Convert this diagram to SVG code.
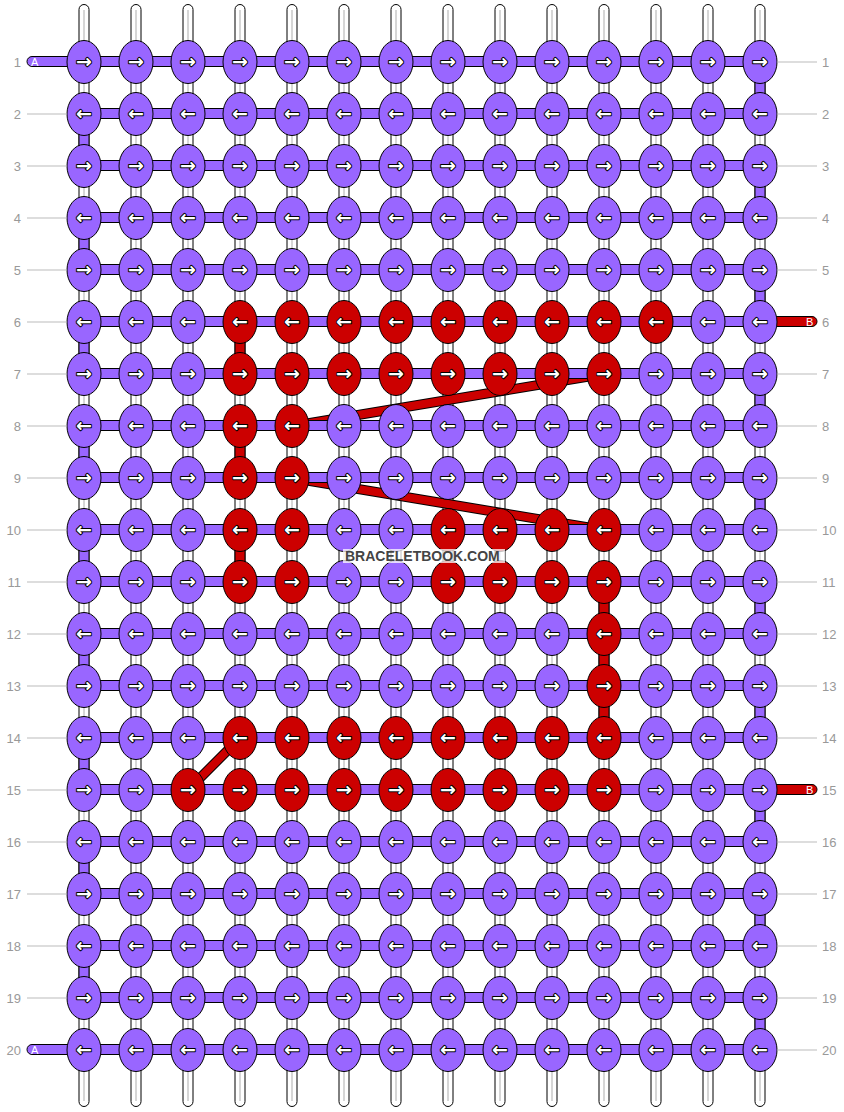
<svg xmlns="http://www.w3.org/2000/svg" width="844" height="1112" viewBox="0 0 844 1112">
<style>
.s{fill:#fff;stroke:#000;stroke-width:1}
.sl{stroke:#c8c8c8;stroke-width:1.5}
.p{fill:#9966ff;stroke:#000;stroke-width:1}
.r{fill:#cc0000;stroke:#000;stroke-width:1}
.a{font-family:"DejaVu Sans",sans-serif;font-size:19px;font-weight:bold;fill:#fff;stroke:#000;stroke-width:2;stroke-linejoin:round;paint-order:stroke;text-anchor:middle}
.g{stroke:#bbb;stroke-width:1}
.nl{font-family:"Liberation Sans",Arial,sans-serif;font-size:13px;fill:#999;text-anchor:end}
.nr{font-family:"Liberation Sans",Arial,sans-serif;font-size:13px;fill:#999;text-anchor:start}
.lb{font-family:"Liberation Sans",Arial,sans-serif;font-size:11px;fill:#fff}
.dk{stroke:#000;stroke-width:10;stroke-linecap:butt}
.dr{stroke:#cc0000;stroke-width:8;stroke-linecap:butt}
</style>
<g id="connectors">
<g id="strands">
<rect class="s" x="79" y="4.5" width="10" height="1102" rx="5"/><line class="sl" x1="84" y1="10" x2="84" y2="1101"/>
<rect class="s" x="131" y="4.5" width="10" height="1102" rx="5"/><line class="sl" x1="136" y1="10" x2="136" y2="1101"/>
<rect class="s" x="183" y="4.5" width="10" height="1102" rx="5"/><line class="sl" x1="188" y1="10" x2="188" y2="1101"/>
<rect class="s" x="235" y="4.5" width="10" height="1102" rx="5"/><line class="sl" x1="240" y1="10" x2="240" y2="1101"/>
<rect class="s" x="287" y="4.5" width="10" height="1102" rx="5"/><line class="sl" x1="292" y1="10" x2="292" y2="1101"/>
<rect class="s" x="339" y="4.5" width="10" height="1102" rx="5"/><line class="sl" x1="344" y1="10" x2="344" y2="1101"/>
<rect class="s" x="391" y="4.5" width="10" height="1102" rx="5"/><line class="sl" x1="396" y1="10" x2="396" y2="1101"/>
<rect class="s" x="443" y="4.5" width="10" height="1102" rx="5"/><line class="sl" x1="448" y1="10" x2="448" y2="1101"/>
<rect class="s" x="495" y="4.5" width="10" height="1102" rx="5"/><line class="sl" x1="500" y1="10" x2="500" y2="1101"/>
<rect class="s" x="547" y="4.5" width="10" height="1102" rx="5"/><line class="sl" x1="552" y1="10" x2="552" y2="1101"/>
<rect class="s" x="599" y="4.5" width="10" height="1102" rx="5"/><line class="sl" x1="604" y1="10" x2="604" y2="1101"/>
<rect class="s" x="651" y="4.5" width="10" height="1102" rx="5"/><line class="sl" x1="656" y1="10" x2="656" y2="1101"/>
<rect class="s" x="703" y="4.5" width="10" height="1102" rx="5"/><line class="sl" x1="708" y1="10" x2="708" y2="1101"/>
<rect class="s" x="755" y="4.5" width="10" height="1102" rx="5"/><line class="sl" x1="760" y1="10" x2="760" y2="1101"/>
</g>
<g id="turns">
<rect class="p" x="755" y="62" width="10" height="52"/>
<rect class="p" x="755" y="166" width="10" height="52"/>
<rect class="p" x="755" y="270" width="10" height="52"/>
<rect class="p" x="755" y="374" width="10" height="52"/>
<rect class="p" x="755" y="478" width="10" height="52"/>
<rect class="p" x="755" y="582" width="10" height="52"/>
<rect class="p" x="755" y="686" width="10" height="52"/>
<rect class="p" x="755" y="790" width="10" height="52"/>
<rect class="p" x="755" y="894" width="10" height="52"/>
<rect class="p" x="755" y="998" width="10" height="52"/>
<rect class="p" x="79" y="114" width="10" height="52"/>
<rect class="p" x="79" y="218" width="10" height="52"/>
<rect class="p" x="79" y="322" width="10" height="52"/>
<rect class="p" x="79" y="426" width="10" height="52"/>
<rect class="p" x="79" y="530" width="10" height="52"/>
<rect class="p" x="79" y="634" width="10" height="52"/>
<rect class="p" x="79" y="738" width="10" height="52"/>
<rect class="p" x="79" y="842" width="10" height="52"/>
<rect class="p" x="79" y="946" width="10" height="52"/>
</g>
<g id="threadB">
<rect class="r" x="235" y="322" width="10" height="52"/>
<rect class="r" x="235" y="426" width="10" height="52"/>
<rect class="r" x="235" y="530" width="10" height="52"/>
<rect class="r" x="599" y="582" width="10" height="156"/>
<line class="dk" x1="604" y1="374" x2="292" y2="426"/>
<line class="dr" x1="604" y1="374" x2="292" y2="426"/>
<line class="dk" x1="292" y1="478" x2="604" y2="530"/>
<line class="dr" x1="292" y1="478" x2="604" y2="530"/>
<line class="dk" x1="240" y1="738" x2="188" y2="790"/>
<line class="dr" x1="240" y1="738" x2="188" y2="790"/>
</g>
<g id="rows">
<rect class="p" x="84" y="56.5" width="676" height="10"/>
<rect class="p" x="84" y="108.5" width="676" height="10"/>
<rect class="p" x="84" y="160.5" width="676" height="10"/>
<rect class="p" x="84" y="212.5" width="676" height="10"/>
<rect class="p" x="84" y="264.5" width="676" height="10"/>
<rect class="p" x="84" y="316.5" width="676" height="10"/>
<rect class="p" x="84" y="368.5" width="676" height="10"/>
<rect class="p" x="84" y="420.5" width="676" height="10"/>
<rect class="p" x="84" y="472.5" width="676" height="10"/>
<rect class="p" x="84" y="524.5" width="676" height="10"/>
<rect class="p" x="84" y="576.5" width="676" height="10"/>
<rect class="p" x="84" y="628.5" width="676" height="10"/>
<rect class="p" x="84" y="680.5" width="676" height="10"/>
<rect class="p" x="84" y="732.5" width="676" height="10"/>
<rect class="p" x="84" y="784.5" width="676" height="10"/>
<rect class="p" x="84" y="836.5" width="676" height="10"/>
<rect class="p" x="84" y="888.5" width="676" height="10"/>
<rect class="p" x="84" y="940.5" width="676" height="10"/>
<rect class="p" x="84" y="992.5" width="676" height="10"/>
<rect class="p" x="84" y="1044.5" width="676" height="10"/>
</g>
<g id="ends">
<rect class="p" x="27" y="56.5" width="60" height="10" rx="5"/>
<rect class="p" x="27" y="1044.5" width="60" height="10" rx="5"/>
<rect class="r" x="757" y="316.5" width="60" height="10" rx="5"/>
<rect class="r" x="757" y="784.5" width="60" height="10" rx="5"/>
</g>
</g>
<g id="nodes">
<g id="r1">
<g id="n1_1"><ellipse class="p" cx="84" cy="62" rx="17" ry="21.5"/><text class="a" x="84" y="68">→</text></g>
<g id="n1_2"><ellipse class="p" cx="136" cy="62" rx="17" ry="21.5"/><text class="a" x="136" y="68">→</text></g>
<g id="n1_3"><ellipse class="p" cx="188" cy="62" rx="17" ry="21.5"/><text class="a" x="188" y="68">→</text></g>
<g id="n1_4"><ellipse class="p" cx="240" cy="62" rx="17" ry="21.5"/><text class="a" x="240" y="68">→</text></g>
<g id="n1_5"><ellipse class="p" cx="292" cy="62" rx="17" ry="21.5"/><text class="a" x="292" y="68">→</text></g>
<g id="n1_6"><ellipse class="p" cx="344" cy="62" rx="17" ry="21.5"/><text class="a" x="344" y="68">→</text></g>
<g id="n1_7"><ellipse class="p" cx="396" cy="62" rx="17" ry="21.5"/><text class="a" x="396" y="68">→</text></g>
<g id="n1_8"><ellipse class="p" cx="448" cy="62" rx="17" ry="21.5"/><text class="a" x="448" y="68">→</text></g>
<g id="n1_9"><ellipse class="p" cx="500" cy="62" rx="17" ry="21.5"/><text class="a" x="500" y="68">→</text></g>
<g id="n1_10"><ellipse class="p" cx="552" cy="62" rx="17" ry="21.5"/><text class="a" x="552" y="68">→</text></g>
<g id="n1_11"><ellipse class="p" cx="604" cy="62" rx="17" ry="21.5"/><text class="a" x="604" y="68">→</text></g>
<g id="n1_12"><ellipse class="p" cx="656" cy="62" rx="17" ry="21.5"/><text class="a" x="656" y="68">→</text></g>
<g id="n1_13"><ellipse class="p" cx="708" cy="62" rx="17" ry="21.5"/><text class="a" x="708" y="68">→</text></g>
<g id="n1_14"><ellipse class="p" cx="760" cy="62" rx="17" ry="21.5"/><text class="a" x="760" y="68">→</text></g>
</g>
<g id="r2">
<g id="n2_1"><ellipse class="p" cx="84" cy="114" rx="17" ry="21.5"/><text class="a" x="84" y="120">←</text></g>
<g id="n2_2"><ellipse class="p" cx="136" cy="114" rx="17" ry="21.5"/><text class="a" x="136" y="120">←</text></g>
<g id="n2_3"><ellipse class="p" cx="188" cy="114" rx="17" ry="21.5"/><text class="a" x="188" y="120">←</text></g>
<g id="n2_4"><ellipse class="p" cx="240" cy="114" rx="17" ry="21.5"/><text class="a" x="240" y="120">←</text></g>
<g id="n2_5"><ellipse class="p" cx="292" cy="114" rx="17" ry="21.5"/><text class="a" x="292" y="120">←</text></g>
<g id="n2_6"><ellipse class="p" cx="344" cy="114" rx="17" ry="21.5"/><text class="a" x="344" y="120">←</text></g>
<g id="n2_7"><ellipse class="p" cx="396" cy="114" rx="17" ry="21.5"/><text class="a" x="396" y="120">←</text></g>
<g id="n2_8"><ellipse class="p" cx="448" cy="114" rx="17" ry="21.5"/><text class="a" x="448" y="120">←</text></g>
<g id="n2_9"><ellipse class="p" cx="500" cy="114" rx="17" ry="21.5"/><text class="a" x="500" y="120">←</text></g>
<g id="n2_10"><ellipse class="p" cx="552" cy="114" rx="17" ry="21.5"/><text class="a" x="552" y="120">←</text></g>
<g id="n2_11"><ellipse class="p" cx="604" cy="114" rx="17" ry="21.5"/><text class="a" x="604" y="120">←</text></g>
<g id="n2_12"><ellipse class="p" cx="656" cy="114" rx="17" ry="21.5"/><text class="a" x="656" y="120">←</text></g>
<g id="n2_13"><ellipse class="p" cx="708" cy="114" rx="17" ry="21.5"/><text class="a" x="708" y="120">←</text></g>
<g id="n2_14"><ellipse class="p" cx="760" cy="114" rx="17" ry="21.5"/><text class="a" x="760" y="120">←</text></g>
</g>
<g id="r3">
<g id="n3_1"><ellipse class="p" cx="84" cy="166" rx="17" ry="21.5"/><text class="a" x="84" y="172">→</text></g>
<g id="n3_2"><ellipse class="p" cx="136" cy="166" rx="17" ry="21.5"/><text class="a" x="136" y="172">→</text></g>
<g id="n3_3"><ellipse class="p" cx="188" cy="166" rx="17" ry="21.5"/><text class="a" x="188" y="172">→</text></g>
<g id="n3_4"><ellipse class="p" cx="240" cy="166" rx="17" ry="21.5"/><text class="a" x="240" y="172">→</text></g>
<g id="n3_5"><ellipse class="p" cx="292" cy="166" rx="17" ry="21.5"/><text class="a" x="292" y="172">→</text></g>
<g id="n3_6"><ellipse class="p" cx="344" cy="166" rx="17" ry="21.5"/><text class="a" x="344" y="172">→</text></g>
<g id="n3_7"><ellipse class="p" cx="396" cy="166" rx="17" ry="21.5"/><text class="a" x="396" y="172">→</text></g>
<g id="n3_8"><ellipse class="p" cx="448" cy="166" rx="17" ry="21.5"/><text class="a" x="448" y="172">→</text></g>
<g id="n3_9"><ellipse class="p" cx="500" cy="166" rx="17" ry="21.5"/><text class="a" x="500" y="172">→</text></g>
<g id="n3_10"><ellipse class="p" cx="552" cy="166" rx="17" ry="21.5"/><text class="a" x="552" y="172">→</text></g>
<g id="n3_11"><ellipse class="p" cx="604" cy="166" rx="17" ry="21.5"/><text class="a" x="604" y="172">→</text></g>
<g id="n3_12"><ellipse class="p" cx="656" cy="166" rx="17" ry="21.5"/><text class="a" x="656" y="172">→</text></g>
<g id="n3_13"><ellipse class="p" cx="708" cy="166" rx="17" ry="21.5"/><text class="a" x="708" y="172">→</text></g>
<g id="n3_14"><ellipse class="p" cx="760" cy="166" rx="17" ry="21.5"/><text class="a" x="760" y="172">→</text></g>
</g>
<g id="r4">
<g id="n4_1"><ellipse class="p" cx="84" cy="218" rx="17" ry="21.5"/><text class="a" x="84" y="224">←</text></g>
<g id="n4_2"><ellipse class="p" cx="136" cy="218" rx="17" ry="21.5"/><text class="a" x="136" y="224">←</text></g>
<g id="n4_3"><ellipse class="p" cx="188" cy="218" rx="17" ry="21.5"/><text class="a" x="188" y="224">←</text></g>
<g id="n4_4"><ellipse class="p" cx="240" cy="218" rx="17" ry="21.5"/><text class="a" x="240" y="224">←</text></g>
<g id="n4_5"><ellipse class="p" cx="292" cy="218" rx="17" ry="21.5"/><text class="a" x="292" y="224">←</text></g>
<g id="n4_6"><ellipse class="p" cx="344" cy="218" rx="17" ry="21.5"/><text class="a" x="344" y="224">←</text></g>
<g id="n4_7"><ellipse class="p" cx="396" cy="218" rx="17" ry="21.5"/><text class="a" x="396" y="224">←</text></g>
<g id="n4_8"><ellipse class="p" cx="448" cy="218" rx="17" ry="21.5"/><text class="a" x="448" y="224">←</text></g>
<g id="n4_9"><ellipse class="p" cx="500" cy="218" rx="17" ry="21.5"/><text class="a" x="500" y="224">←</text></g>
<g id="n4_10"><ellipse class="p" cx="552" cy="218" rx="17" ry="21.5"/><text class="a" x="552" y="224">←</text></g>
<g id="n4_11"><ellipse class="p" cx="604" cy="218" rx="17" ry="21.5"/><text class="a" x="604" y="224">←</text></g>
<g id="n4_12"><ellipse class="p" cx="656" cy="218" rx="17" ry="21.5"/><text class="a" x="656" y="224">←</text></g>
<g id="n4_13"><ellipse class="p" cx="708" cy="218" rx="17" ry="21.5"/><text class="a" x="708" y="224">←</text></g>
<g id="n4_14"><ellipse class="p" cx="760" cy="218" rx="17" ry="21.5"/><text class="a" x="760" y="224">←</text></g>
</g>
<g id="r5">
<g id="n5_1"><ellipse class="p" cx="84" cy="270" rx="17" ry="21.5"/><text class="a" x="84" y="276">→</text></g>
<g id="n5_2"><ellipse class="p" cx="136" cy="270" rx="17" ry="21.5"/><text class="a" x="136" y="276">→</text></g>
<g id="n5_3"><ellipse class="p" cx="188" cy="270" rx="17" ry="21.5"/><text class="a" x="188" y="276">→</text></g>
<g id="n5_4"><ellipse class="p" cx="240" cy="270" rx="17" ry="21.5"/><text class="a" x="240" y="276">→</text></g>
<g id="n5_5"><ellipse class="p" cx="292" cy="270" rx="17" ry="21.5"/><text class="a" x="292" y="276">→</text></g>
<g id="n5_6"><ellipse class="p" cx="344" cy="270" rx="17" ry="21.5"/><text class="a" x="344" y="276">→</text></g>
<g id="n5_7"><ellipse class="p" cx="396" cy="270" rx="17" ry="21.5"/><text class="a" x="396" y="276">→</text></g>
<g id="n5_8"><ellipse class="p" cx="448" cy="270" rx="17" ry="21.5"/><text class="a" x="448" y="276">→</text></g>
<g id="n5_9"><ellipse class="p" cx="500" cy="270" rx="17" ry="21.5"/><text class="a" x="500" y="276">→</text></g>
<g id="n5_10"><ellipse class="p" cx="552" cy="270" rx="17" ry="21.5"/><text class="a" x="552" y="276">→</text></g>
<g id="n5_11"><ellipse class="p" cx="604" cy="270" rx="17" ry="21.5"/><text class="a" x="604" y="276">→</text></g>
<g id="n5_12"><ellipse class="p" cx="656" cy="270" rx="17" ry="21.5"/><text class="a" x="656" y="276">→</text></g>
<g id="n5_13"><ellipse class="p" cx="708" cy="270" rx="17" ry="21.5"/><text class="a" x="708" y="276">→</text></g>
<g id="n5_14"><ellipse class="p" cx="760" cy="270" rx="17" ry="21.5"/><text class="a" x="760" y="276">→</text></g>
</g>
<g id="r6">
<g id="n6_1"><ellipse class="p" cx="84" cy="322" rx="17" ry="21.5"/><text class="a" x="84" y="328">←</text></g>
<g id="n6_2"><ellipse class="p" cx="136" cy="322" rx="17" ry="21.5"/><text class="a" x="136" y="328">←</text></g>
<g id="n6_3"><ellipse class="p" cx="188" cy="322" rx="17" ry="21.5"/><text class="a" x="188" y="328">←</text></g>
<g id="n6_4"><ellipse class="r" cx="240" cy="322" rx="17" ry="21.5"/><text class="a" x="240" y="328">←</text></g>
<g id="n6_5"><ellipse class="r" cx="292" cy="322" rx="17" ry="21.5"/><text class="a" x="292" y="328">←</text></g>
<g id="n6_6"><ellipse class="r" cx="344" cy="322" rx="17" ry="21.5"/><text class="a" x="344" y="328">←</text></g>
<g id="n6_7"><ellipse class="r" cx="396" cy="322" rx="17" ry="21.5"/><text class="a" x="396" y="328">←</text></g>
<g id="n6_8"><ellipse class="r" cx="448" cy="322" rx="17" ry="21.5"/><text class="a" x="448" y="328">←</text></g>
<g id="n6_9"><ellipse class="r" cx="500" cy="322" rx="17" ry="21.5"/><text class="a" x="500" y="328">←</text></g>
<g id="n6_10"><ellipse class="r" cx="552" cy="322" rx="17" ry="21.5"/><text class="a" x="552" y="328">←</text></g>
<g id="n6_11"><ellipse class="r" cx="604" cy="322" rx="17" ry="21.5"/><text class="a" x="604" y="328">←</text></g>
<g id="n6_12"><ellipse class="r" cx="656" cy="322" rx="17" ry="21.5"/><text class="a" x="656" y="328">←</text></g>
<g id="n6_13"><ellipse class="p" cx="708" cy="322" rx="17" ry="21.5"/><text class="a" x="708" y="328">←</text></g>
<g id="n6_14"><ellipse class="p" cx="760" cy="322" rx="17" ry="21.5"/><text class="a" x="760" y="328">←</text></g>
</g>
<g id="r7">
<g id="n7_1"><ellipse class="p" cx="84" cy="374" rx="17" ry="21.5"/><text class="a" x="84" y="380">→</text></g>
<g id="n7_2"><ellipse class="p" cx="136" cy="374" rx="17" ry="21.5"/><text class="a" x="136" y="380">→</text></g>
<g id="n7_3"><ellipse class="p" cx="188" cy="374" rx="17" ry="21.5"/><text class="a" x="188" y="380">→</text></g>
<g id="n7_4"><ellipse class="r" cx="240" cy="374" rx="17" ry="21.5"/><text class="a" x="240" y="380">→</text></g>
<g id="n7_5"><ellipse class="r" cx="292" cy="374" rx="17" ry="21.5"/><text class="a" x="292" y="380">→</text></g>
<g id="n7_6"><ellipse class="r" cx="344" cy="374" rx="17" ry="21.5"/><text class="a" x="344" y="380">→</text></g>
<g id="n7_7"><ellipse class="r" cx="396" cy="374" rx="17" ry="21.5"/><text class="a" x="396" y="380">→</text></g>
<g id="n7_8"><ellipse class="r" cx="448" cy="374" rx="17" ry="21.5"/><text class="a" x="448" y="380">→</text></g>
<g id="n7_9"><ellipse class="r" cx="500" cy="374" rx="17" ry="21.5"/><text class="a" x="500" y="380">→</text></g>
<g id="n7_10"><ellipse class="r" cx="552" cy="374" rx="17" ry="21.5"/><text class="a" x="552" y="380">→</text></g>
<g id="n7_11"><ellipse class="r" cx="604" cy="374" rx="17" ry="21.5"/><text class="a" x="604" y="380">→</text></g>
<g id="n7_12"><ellipse class="p" cx="656" cy="374" rx="17" ry="21.5"/><text class="a" x="656" y="380">→</text></g>
<g id="n7_13"><ellipse class="p" cx="708" cy="374" rx="17" ry="21.5"/><text class="a" x="708" y="380">→</text></g>
<g id="n7_14"><ellipse class="p" cx="760" cy="374" rx="17" ry="21.5"/><text class="a" x="760" y="380">→</text></g>
</g>
<g id="r8">
<g id="n8_1"><ellipse class="p" cx="84" cy="426" rx="17" ry="21.5"/><text class="a" x="84" y="432">←</text></g>
<g id="n8_2"><ellipse class="p" cx="136" cy="426" rx="17" ry="21.5"/><text class="a" x="136" y="432">←</text></g>
<g id="n8_3"><ellipse class="p" cx="188" cy="426" rx="17" ry="21.5"/><text class="a" x="188" y="432">←</text></g>
<g id="n8_4"><ellipse class="r" cx="240" cy="426" rx="17" ry="21.5"/><text class="a" x="240" y="432">←</text></g>
<g id="n8_5"><ellipse class="r" cx="292" cy="426" rx="17" ry="21.5"/><text class="a" x="292" y="432">←</text></g>
<g id="n8_6"><ellipse class="p" cx="344" cy="426" rx="17" ry="21.5"/><text class="a" x="344" y="432">←</text></g>
<g id="n8_7"><ellipse class="p" cx="396" cy="426" rx="17" ry="21.5"/><text class="a" x="396" y="432">←</text></g>
<g id="n8_8"><ellipse class="p" cx="448" cy="426" rx="17" ry="21.5"/><text class="a" x="448" y="432">←</text></g>
<g id="n8_9"><ellipse class="p" cx="500" cy="426" rx="17" ry="21.5"/><text class="a" x="500" y="432">←</text></g>
<g id="n8_10"><ellipse class="p" cx="552" cy="426" rx="17" ry="21.5"/><text class="a" x="552" y="432">←</text></g>
<g id="n8_11"><ellipse class="p" cx="604" cy="426" rx="17" ry="21.5"/><text class="a" x="604" y="432">←</text></g>
<g id="n8_12"><ellipse class="p" cx="656" cy="426" rx="17" ry="21.5"/><text class="a" x="656" y="432">←</text></g>
<g id="n8_13"><ellipse class="p" cx="708" cy="426" rx="17" ry="21.5"/><text class="a" x="708" y="432">←</text></g>
<g id="n8_14"><ellipse class="p" cx="760" cy="426" rx="17" ry="21.5"/><text class="a" x="760" y="432">←</text></g>
</g>
<g id="r9">
<g id="n9_1"><ellipse class="p" cx="84" cy="478" rx="17" ry="21.5"/><text class="a" x="84" y="484">→</text></g>
<g id="n9_2"><ellipse class="p" cx="136" cy="478" rx="17" ry="21.5"/><text class="a" x="136" y="484">→</text></g>
<g id="n9_3"><ellipse class="p" cx="188" cy="478" rx="17" ry="21.5"/><text class="a" x="188" y="484">→</text></g>
<g id="n9_4"><ellipse class="r" cx="240" cy="478" rx="17" ry="21.5"/><text class="a" x="240" y="484">→</text></g>
<g id="n9_5"><ellipse class="r" cx="292" cy="478" rx="17" ry="21.5"/><text class="a" x="292" y="484">→</text></g>
<g id="n9_6"><ellipse class="p" cx="344" cy="478" rx="17" ry="21.5"/><text class="a" x="344" y="484">→</text></g>
<g id="n9_7"><ellipse class="p" cx="396" cy="478" rx="17" ry="21.5"/><text class="a" x="396" y="484">→</text></g>
<g id="n9_8"><ellipse class="p" cx="448" cy="478" rx="17" ry="21.5"/><text class="a" x="448" y="484">→</text></g>
<g id="n9_9"><ellipse class="p" cx="500" cy="478" rx="17" ry="21.5"/><text class="a" x="500" y="484">→</text></g>
<g id="n9_10"><ellipse class="p" cx="552" cy="478" rx="17" ry="21.5"/><text class="a" x="552" y="484">→</text></g>
<g id="n9_11"><ellipse class="p" cx="604" cy="478" rx="17" ry="21.5"/><text class="a" x="604" y="484">→</text></g>
<g id="n9_12"><ellipse class="p" cx="656" cy="478" rx="17" ry="21.5"/><text class="a" x="656" y="484">→</text></g>
<g id="n9_13"><ellipse class="p" cx="708" cy="478" rx="17" ry="21.5"/><text class="a" x="708" y="484">→</text></g>
<g id="n9_14"><ellipse class="p" cx="760" cy="478" rx="17" ry="21.5"/><text class="a" x="760" y="484">→</text></g>
</g>
<g id="r10">
<g id="n10_1"><ellipse class="p" cx="84" cy="530" rx="17" ry="21.5"/><text class="a" x="84" y="536">←</text></g>
<g id="n10_2"><ellipse class="p" cx="136" cy="530" rx="17" ry="21.5"/><text class="a" x="136" y="536">←</text></g>
<g id="n10_3"><ellipse class="p" cx="188" cy="530" rx="17" ry="21.5"/><text class="a" x="188" y="536">←</text></g>
<g id="n10_4"><ellipse class="r" cx="240" cy="530" rx="17" ry="21.5"/><text class="a" x="240" y="536">←</text></g>
<g id="n10_5"><ellipse class="r" cx="292" cy="530" rx="17" ry="21.5"/><text class="a" x="292" y="536">←</text></g>
<g id="n10_6"><ellipse class="p" cx="344" cy="530" rx="17" ry="21.5"/><text class="a" x="344" y="536">←</text></g>
<g id="n10_7"><ellipse class="p" cx="396" cy="530" rx="17" ry="21.5"/><text class="a" x="396" y="536">←</text></g>
<g id="n10_8"><ellipse class="r" cx="448" cy="530" rx="17" ry="21.5"/><text class="a" x="448" y="536">←</text></g>
<g id="n10_9"><ellipse class="r" cx="500" cy="530" rx="17" ry="21.5"/><text class="a" x="500" y="536">←</text></g>
<g id="n10_10"><ellipse class="r" cx="552" cy="530" rx="17" ry="21.5"/><text class="a" x="552" y="536">←</text></g>
<g id="n10_11"><ellipse class="r" cx="604" cy="530" rx="17" ry="21.5"/><text class="a" x="604" y="536">←</text></g>
<g id="n10_12"><ellipse class="p" cx="656" cy="530" rx="17" ry="21.5"/><text class="a" x="656" y="536">←</text></g>
<g id="n10_13"><ellipse class="p" cx="708" cy="530" rx="17" ry="21.5"/><text class="a" x="708" y="536">←</text></g>
<g id="n10_14"><ellipse class="p" cx="760" cy="530" rx="17" ry="21.5"/><text class="a" x="760" y="536">←</text></g>
</g>
<g id="r11">
<g id="n11_1"><ellipse class="p" cx="84" cy="582" rx="17" ry="21.5"/><text class="a" x="84" y="588">→</text></g>
<g id="n11_2"><ellipse class="p" cx="136" cy="582" rx="17" ry="21.5"/><text class="a" x="136" y="588">→</text></g>
<g id="n11_3"><ellipse class="p" cx="188" cy="582" rx="17" ry="21.5"/><text class="a" x="188" y="588">→</text></g>
<g id="n11_4"><ellipse class="r" cx="240" cy="582" rx="17" ry="21.5"/><text class="a" x="240" y="588">→</text></g>
<g id="n11_5"><ellipse class="r" cx="292" cy="582" rx="17" ry="21.5"/><text class="a" x="292" y="588">→</text></g>
<g id="n11_6"><ellipse class="p" cx="344" cy="582" rx="17" ry="21.5"/><text class="a" x="344" y="588">→</text></g>
<g id="n11_7"><ellipse class="p" cx="396" cy="582" rx="17" ry="21.5"/><text class="a" x="396" y="588">→</text></g>
<g id="n11_8"><ellipse class="r" cx="448" cy="582" rx="17" ry="21.5"/><text class="a" x="448" y="588">→</text></g>
<g id="n11_9"><ellipse class="r" cx="500" cy="582" rx="17" ry="21.5"/><text class="a" x="500" y="588">→</text></g>
<g id="n11_10"><ellipse class="r" cx="552" cy="582" rx="17" ry="21.5"/><text class="a" x="552" y="588">→</text></g>
<g id="n11_11"><ellipse class="r" cx="604" cy="582" rx="17" ry="21.5"/><text class="a" x="604" y="588">→</text></g>
<g id="n11_12"><ellipse class="p" cx="656" cy="582" rx="17" ry="21.5"/><text class="a" x="656" y="588">→</text></g>
<g id="n11_13"><ellipse class="p" cx="708" cy="582" rx="17" ry="21.5"/><text class="a" x="708" y="588">→</text></g>
<g id="n11_14"><ellipse class="p" cx="760" cy="582" rx="17" ry="21.5"/><text class="a" x="760" y="588">→</text></g>
</g>
<g id="r12">
<g id="n12_1"><ellipse class="p" cx="84" cy="634" rx="17" ry="21.5"/><text class="a" x="84" y="640">←</text></g>
<g id="n12_2"><ellipse class="p" cx="136" cy="634" rx="17" ry="21.5"/><text class="a" x="136" y="640">←</text></g>
<g id="n12_3"><ellipse class="p" cx="188" cy="634" rx="17" ry="21.5"/><text class="a" x="188" y="640">←</text></g>
<g id="n12_4"><ellipse class="p" cx="240" cy="634" rx="17" ry="21.5"/><text class="a" x="240" y="640">←</text></g>
<g id="n12_5"><ellipse class="p" cx="292" cy="634" rx="17" ry="21.5"/><text class="a" x="292" y="640">←</text></g>
<g id="n12_6"><ellipse class="p" cx="344" cy="634" rx="17" ry="21.5"/><text class="a" x="344" y="640">←</text></g>
<g id="n12_7"><ellipse class="p" cx="396" cy="634" rx="17" ry="21.5"/><text class="a" x="396" y="640">←</text></g>
<g id="n12_8"><ellipse class="p" cx="448" cy="634" rx="17" ry="21.5"/><text class="a" x="448" y="640">←</text></g>
<g id="n12_9"><ellipse class="p" cx="500" cy="634" rx="17" ry="21.5"/><text class="a" x="500" y="640">←</text></g>
<g id="n12_10"><ellipse class="p" cx="552" cy="634" rx="17" ry="21.5"/><text class="a" x="552" y="640">←</text></g>
<g id="n12_11"><ellipse class="r" cx="604" cy="634" rx="17" ry="21.5"/><text class="a" x="604" y="640">←</text></g>
<g id="n12_12"><ellipse class="p" cx="656" cy="634" rx="17" ry="21.5"/><text class="a" x="656" y="640">←</text></g>
<g id="n12_13"><ellipse class="p" cx="708" cy="634" rx="17" ry="21.5"/><text class="a" x="708" y="640">←</text></g>
<g id="n12_14"><ellipse class="p" cx="760" cy="634" rx="17" ry="21.5"/><text class="a" x="760" y="640">←</text></g>
</g>
<g id="r13">
<g id="n13_1"><ellipse class="p" cx="84" cy="686" rx="17" ry="21.5"/><text class="a" x="84" y="692">→</text></g>
<g id="n13_2"><ellipse class="p" cx="136" cy="686" rx="17" ry="21.5"/><text class="a" x="136" y="692">→</text></g>
<g id="n13_3"><ellipse class="p" cx="188" cy="686" rx="17" ry="21.5"/><text class="a" x="188" y="692">→</text></g>
<g id="n13_4"><ellipse class="p" cx="240" cy="686" rx="17" ry="21.5"/><text class="a" x="240" y="692">→</text></g>
<g id="n13_5"><ellipse class="p" cx="292" cy="686" rx="17" ry="21.5"/><text class="a" x="292" y="692">→</text></g>
<g id="n13_6"><ellipse class="p" cx="344" cy="686" rx="17" ry="21.5"/><text class="a" x="344" y="692">→</text></g>
<g id="n13_7"><ellipse class="p" cx="396" cy="686" rx="17" ry="21.5"/><text class="a" x="396" y="692">→</text></g>
<g id="n13_8"><ellipse class="p" cx="448" cy="686" rx="17" ry="21.5"/><text class="a" x="448" y="692">→</text></g>
<g id="n13_9"><ellipse class="p" cx="500" cy="686" rx="17" ry="21.5"/><text class="a" x="500" y="692">→</text></g>
<g id="n13_10"><ellipse class="p" cx="552" cy="686" rx="17" ry="21.5"/><text class="a" x="552" y="692">→</text></g>
<g id="n13_11"><ellipse class="r" cx="604" cy="686" rx="17" ry="21.5"/><text class="a" x="604" y="692">→</text></g>
<g id="n13_12"><ellipse class="p" cx="656" cy="686" rx="17" ry="21.5"/><text class="a" x="656" y="692">→</text></g>
<g id="n13_13"><ellipse class="p" cx="708" cy="686" rx="17" ry="21.5"/><text class="a" x="708" y="692">→</text></g>
<g id="n13_14"><ellipse class="p" cx="760" cy="686" rx="17" ry="21.5"/><text class="a" x="760" y="692">→</text></g>
</g>
<g id="r14">
<g id="n14_1"><ellipse class="p" cx="84" cy="738" rx="17" ry="21.5"/><text class="a" x="84" y="744">←</text></g>
<g id="n14_2"><ellipse class="p" cx="136" cy="738" rx="17" ry="21.5"/><text class="a" x="136" y="744">←</text></g>
<g id="n14_3"><ellipse class="p" cx="188" cy="738" rx="17" ry="21.5"/><text class="a" x="188" y="744">←</text></g>
<g id="n14_4"><ellipse class="r" cx="240" cy="738" rx="17" ry="21.5"/><text class="a" x="240" y="744">←</text></g>
<g id="n14_5"><ellipse class="r" cx="292" cy="738" rx="17" ry="21.5"/><text class="a" x="292" y="744">←</text></g>
<g id="n14_6"><ellipse class="r" cx="344" cy="738" rx="17" ry="21.5"/><text class="a" x="344" y="744">←</text></g>
<g id="n14_7"><ellipse class="r" cx="396" cy="738" rx="17" ry="21.5"/><text class="a" x="396" y="744">←</text></g>
<g id="n14_8"><ellipse class="r" cx="448" cy="738" rx="17" ry="21.5"/><text class="a" x="448" y="744">←</text></g>
<g id="n14_9"><ellipse class="r" cx="500" cy="738" rx="17" ry="21.5"/><text class="a" x="500" y="744">←</text></g>
<g id="n14_10"><ellipse class="r" cx="552" cy="738" rx="17" ry="21.5"/><text class="a" x="552" y="744">←</text></g>
<g id="n14_11"><ellipse class="r" cx="604" cy="738" rx="17" ry="21.5"/><text class="a" x="604" y="744">←</text></g>
<g id="n14_12"><ellipse class="p" cx="656" cy="738" rx="17" ry="21.5"/><text class="a" x="656" y="744">←</text></g>
<g id="n14_13"><ellipse class="p" cx="708" cy="738" rx="17" ry="21.5"/><text class="a" x="708" y="744">←</text></g>
<g id="n14_14"><ellipse class="p" cx="760" cy="738" rx="17" ry="21.5"/><text class="a" x="760" y="744">←</text></g>
</g>
<g id="r15">
<g id="n15_1"><ellipse class="p" cx="84" cy="790" rx="17" ry="21.5"/><text class="a" x="84" y="796">→</text></g>
<g id="n15_2"><ellipse class="p" cx="136" cy="790" rx="17" ry="21.5"/><text class="a" x="136" y="796">→</text></g>
<g id="n15_3"><ellipse class="r" cx="188" cy="790" rx="17" ry="21.5"/><text class="a" x="188" y="796">→</text></g>
<g id="n15_4"><ellipse class="r" cx="240" cy="790" rx="17" ry="21.5"/><text class="a" x="240" y="796">→</text></g>
<g id="n15_5"><ellipse class="r" cx="292" cy="790" rx="17" ry="21.5"/><text class="a" x="292" y="796">→</text></g>
<g id="n15_6"><ellipse class="r" cx="344" cy="790" rx="17" ry="21.5"/><text class="a" x="344" y="796">→</text></g>
<g id="n15_7"><ellipse class="r" cx="396" cy="790" rx="17" ry="21.5"/><text class="a" x="396" y="796">→</text></g>
<g id="n15_8"><ellipse class="r" cx="448" cy="790" rx="17" ry="21.5"/><text class="a" x="448" y="796">→</text></g>
<g id="n15_9"><ellipse class="r" cx="500" cy="790" rx="17" ry="21.5"/><text class="a" x="500" y="796">→</text></g>
<g id="n15_10"><ellipse class="r" cx="552" cy="790" rx="17" ry="21.5"/><text class="a" x="552" y="796">→</text></g>
<g id="n15_11"><ellipse class="r" cx="604" cy="790" rx="17" ry="21.5"/><text class="a" x="604" y="796">→</text></g>
<g id="n15_12"><ellipse class="p" cx="656" cy="790" rx="17" ry="21.5"/><text class="a" x="656" y="796">→</text></g>
<g id="n15_13"><ellipse class="p" cx="708" cy="790" rx="17" ry="21.5"/><text class="a" x="708" y="796">→</text></g>
<g id="n15_14"><ellipse class="p" cx="760" cy="790" rx="17" ry="21.5"/><text class="a" x="760" y="796">→</text></g>
</g>
<g id="r16">
<g id="n16_1"><ellipse class="p" cx="84" cy="842" rx="17" ry="21.5"/><text class="a" x="84" y="848">←</text></g>
<g id="n16_2"><ellipse class="p" cx="136" cy="842" rx="17" ry="21.5"/><text class="a" x="136" y="848">←</text></g>
<g id="n16_3"><ellipse class="p" cx="188" cy="842" rx="17" ry="21.5"/><text class="a" x="188" y="848">←</text></g>
<g id="n16_4"><ellipse class="p" cx="240" cy="842" rx="17" ry="21.5"/><text class="a" x="240" y="848">←</text></g>
<g id="n16_5"><ellipse class="p" cx="292" cy="842" rx="17" ry="21.5"/><text class="a" x="292" y="848">←</text></g>
<g id="n16_6"><ellipse class="p" cx="344" cy="842" rx="17" ry="21.5"/><text class="a" x="344" y="848">←</text></g>
<g id="n16_7"><ellipse class="p" cx="396" cy="842" rx="17" ry="21.5"/><text class="a" x="396" y="848">←</text></g>
<g id="n16_8"><ellipse class="p" cx="448" cy="842" rx="17" ry="21.5"/><text class="a" x="448" y="848">←</text></g>
<g id="n16_9"><ellipse class="p" cx="500" cy="842" rx="17" ry="21.5"/><text class="a" x="500" y="848">←</text></g>
<g id="n16_10"><ellipse class="p" cx="552" cy="842" rx="17" ry="21.5"/><text class="a" x="552" y="848">←</text></g>
<g id="n16_11"><ellipse class="p" cx="604" cy="842" rx="17" ry="21.5"/><text class="a" x="604" y="848">←</text></g>
<g id="n16_12"><ellipse class="p" cx="656" cy="842" rx="17" ry="21.5"/><text class="a" x="656" y="848">←</text></g>
<g id="n16_13"><ellipse class="p" cx="708" cy="842" rx="17" ry="21.5"/><text class="a" x="708" y="848">←</text></g>
<g id="n16_14"><ellipse class="p" cx="760" cy="842" rx="17" ry="21.5"/><text class="a" x="760" y="848">←</text></g>
</g>
<g id="r17">
<g id="n17_1"><ellipse class="p" cx="84" cy="894" rx="17" ry="21.5"/><text class="a" x="84" y="900">→</text></g>
<g id="n17_2"><ellipse class="p" cx="136" cy="894" rx="17" ry="21.5"/><text class="a" x="136" y="900">→</text></g>
<g id="n17_3"><ellipse class="p" cx="188" cy="894" rx="17" ry="21.5"/><text class="a" x="188" y="900">→</text></g>
<g id="n17_4"><ellipse class="p" cx="240" cy="894" rx="17" ry="21.5"/><text class="a" x="240" y="900">→</text></g>
<g id="n17_5"><ellipse class="p" cx="292" cy="894" rx="17" ry="21.5"/><text class="a" x="292" y="900">→</text></g>
<g id="n17_6"><ellipse class="p" cx="344" cy="894" rx="17" ry="21.5"/><text class="a" x="344" y="900">→</text></g>
<g id="n17_7"><ellipse class="p" cx="396" cy="894" rx="17" ry="21.5"/><text class="a" x="396" y="900">→</text></g>
<g id="n17_8"><ellipse class="p" cx="448" cy="894" rx="17" ry="21.5"/><text class="a" x="448" y="900">→</text></g>
<g id="n17_9"><ellipse class="p" cx="500" cy="894" rx="17" ry="21.5"/><text class="a" x="500" y="900">→</text></g>
<g id="n17_10"><ellipse class="p" cx="552" cy="894" rx="17" ry="21.5"/><text class="a" x="552" y="900">→</text></g>
<g id="n17_11"><ellipse class="p" cx="604" cy="894" rx="17" ry="21.5"/><text class="a" x="604" y="900">→</text></g>
<g id="n17_12"><ellipse class="p" cx="656" cy="894" rx="17" ry="21.5"/><text class="a" x="656" y="900">→</text></g>
<g id="n17_13"><ellipse class="p" cx="708" cy="894" rx="17" ry="21.5"/><text class="a" x="708" y="900">→</text></g>
<g id="n17_14"><ellipse class="p" cx="760" cy="894" rx="17" ry="21.5"/><text class="a" x="760" y="900">→</text></g>
</g>
<g id="r18">
<g id="n18_1"><ellipse class="p" cx="84" cy="946" rx="17" ry="21.5"/><text class="a" x="84" y="952">←</text></g>
<g id="n18_2"><ellipse class="p" cx="136" cy="946" rx="17" ry="21.5"/><text class="a" x="136" y="952">←</text></g>
<g id="n18_3"><ellipse class="p" cx="188" cy="946" rx="17" ry="21.5"/><text class="a" x="188" y="952">←</text></g>
<g id="n18_4"><ellipse class="p" cx="240" cy="946" rx="17" ry="21.5"/><text class="a" x="240" y="952">←</text></g>
<g id="n18_5"><ellipse class="p" cx="292" cy="946" rx="17" ry="21.5"/><text class="a" x="292" y="952">←</text></g>
<g id="n18_6"><ellipse class="p" cx="344" cy="946" rx="17" ry="21.5"/><text class="a" x="344" y="952">←</text></g>
<g id="n18_7"><ellipse class="p" cx="396" cy="946" rx="17" ry="21.5"/><text class="a" x="396" y="952">←</text></g>
<g id="n18_8"><ellipse class="p" cx="448" cy="946" rx="17" ry="21.5"/><text class="a" x="448" y="952">←</text></g>
<g id="n18_9"><ellipse class="p" cx="500" cy="946" rx="17" ry="21.5"/><text class="a" x="500" y="952">←</text></g>
<g id="n18_10"><ellipse class="p" cx="552" cy="946" rx="17" ry="21.5"/><text class="a" x="552" y="952">←</text></g>
<g id="n18_11"><ellipse class="p" cx="604" cy="946" rx="17" ry="21.5"/><text class="a" x="604" y="952">←</text></g>
<g id="n18_12"><ellipse class="p" cx="656" cy="946" rx="17" ry="21.5"/><text class="a" x="656" y="952">←</text></g>
<g id="n18_13"><ellipse class="p" cx="708" cy="946" rx="17" ry="21.5"/><text class="a" x="708" y="952">←</text></g>
<g id="n18_14"><ellipse class="p" cx="760" cy="946" rx="17" ry="21.5"/><text class="a" x="760" y="952">←</text></g>
</g>
<g id="r19">
<g id="n19_1"><ellipse class="p" cx="84" cy="998" rx="17" ry="21.5"/><text class="a" x="84" y="1004">→</text></g>
<g id="n19_2"><ellipse class="p" cx="136" cy="998" rx="17" ry="21.5"/><text class="a" x="136" y="1004">→</text></g>
<g id="n19_3"><ellipse class="p" cx="188" cy="998" rx="17" ry="21.5"/><text class="a" x="188" y="1004">→</text></g>
<g id="n19_4"><ellipse class="p" cx="240" cy="998" rx="17" ry="21.5"/><text class="a" x="240" y="1004">→</text></g>
<g id="n19_5"><ellipse class="p" cx="292" cy="998" rx="17" ry="21.5"/><text class="a" x="292" y="1004">→</text></g>
<g id="n19_6"><ellipse class="p" cx="344" cy="998" rx="17" ry="21.5"/><text class="a" x="344" y="1004">→</text></g>
<g id="n19_7"><ellipse class="p" cx="396" cy="998" rx="17" ry="21.5"/><text class="a" x="396" y="1004">→</text></g>
<g id="n19_8"><ellipse class="p" cx="448" cy="998" rx="17" ry="21.5"/><text class="a" x="448" y="1004">→</text></g>
<g id="n19_9"><ellipse class="p" cx="500" cy="998" rx="17" ry="21.5"/><text class="a" x="500" y="1004">→</text></g>
<g id="n19_10"><ellipse class="p" cx="552" cy="998" rx="17" ry="21.5"/><text class="a" x="552" y="1004">→</text></g>
<g id="n19_11"><ellipse class="p" cx="604" cy="998" rx="17" ry="21.5"/><text class="a" x="604" y="1004">→</text></g>
<g id="n19_12"><ellipse class="p" cx="656" cy="998" rx="17" ry="21.5"/><text class="a" x="656" y="1004">→</text></g>
<g id="n19_13"><ellipse class="p" cx="708" cy="998" rx="17" ry="21.5"/><text class="a" x="708" y="1004">→</text></g>
<g id="n19_14"><ellipse class="p" cx="760" cy="998" rx="17" ry="21.5"/><text class="a" x="760" y="1004">→</text></g>
</g>
<g id="r20">
<g id="n20_1"><ellipse class="p" cx="84" cy="1050" rx="17" ry="21.5"/><text class="a" x="84" y="1056">←</text></g>
<g id="n20_2"><ellipse class="p" cx="136" cy="1050" rx="17" ry="21.5"/><text class="a" x="136" y="1056">←</text></g>
<g id="n20_3"><ellipse class="p" cx="188" cy="1050" rx="17" ry="21.5"/><text class="a" x="188" y="1056">←</text></g>
<g id="n20_4"><ellipse class="p" cx="240" cy="1050" rx="17" ry="21.5"/><text class="a" x="240" y="1056">←</text></g>
<g id="n20_5"><ellipse class="p" cx="292" cy="1050" rx="17" ry="21.5"/><text class="a" x="292" y="1056">←</text></g>
<g id="n20_6"><ellipse class="p" cx="344" cy="1050" rx="17" ry="21.5"/><text class="a" x="344" y="1056">←</text></g>
<g id="n20_7"><ellipse class="p" cx="396" cy="1050" rx="17" ry="21.5"/><text class="a" x="396" y="1056">←</text></g>
<g id="n20_8"><ellipse class="p" cx="448" cy="1050" rx="17" ry="21.5"/><text class="a" x="448" y="1056">←</text></g>
<g id="n20_9"><ellipse class="p" cx="500" cy="1050" rx="17" ry="21.5"/><text class="a" x="500" y="1056">←</text></g>
<g id="n20_10"><ellipse class="p" cx="552" cy="1050" rx="17" ry="21.5"/><text class="a" x="552" y="1056">←</text></g>
<g id="n20_11"><ellipse class="p" cx="604" cy="1050" rx="17" ry="21.5"/><text class="a" x="604" y="1056">←</text></g>
<g id="n20_12"><ellipse class="p" cx="656" cy="1050" rx="17" ry="21.5"/><text class="a" x="656" y="1056">←</text></g>
<g id="n20_13"><ellipse class="p" cx="708" cy="1050" rx="17" ry="21.5"/><text class="a" x="708" y="1056">←</text></g>
<g id="n20_14"><ellipse class="p" cx="760" cy="1050" rx="17" ry="21.5"/><text class="a" x="760" y="1056">←</text></g>
</g>
</g>
<g id="labels">
<text class="lb" x="31" y="66">A</text>
<text class="lb" x="31" y="1054">A</text>
<text class="lb" x="806" y="326">B</text>
<text class="lb" x="806" y="794">B</text>
<g id="guides">
<line class="g" x1="27" y1="114" x2="67" y2="114"/>
<line class="g" x1="27" y1="166" x2="67" y2="166"/>
<line class="g" x1="27" y1="218" x2="67" y2="218"/>
<line class="g" x1="27" y1="270" x2="67" y2="270"/>
<line class="g" x1="27" y1="322" x2="67" y2="322"/>
<line class="g" x1="27" y1="374" x2="67" y2="374"/>
<line class="g" x1="27" y1="426" x2="67" y2="426"/>
<line class="g" x1="27" y1="478" x2="67" y2="478"/>
<line class="g" x1="27" y1="530" x2="67" y2="530"/>
<line class="g" x1="27" y1="582" x2="67" y2="582"/>
<line class="g" x1="27" y1="634" x2="67" y2="634"/>
<line class="g" x1="27" y1="686" x2="67" y2="686"/>
<line class="g" x1="27" y1="738" x2="67" y2="738"/>
<line class="g" x1="27" y1="790" x2="67" y2="790"/>
<line class="g" x1="27" y1="842" x2="67" y2="842"/>
<line class="g" x1="27" y1="894" x2="67" y2="894"/>
<line class="g" x1="27" y1="946" x2="67" y2="946"/>
<line class="g" x1="27" y1="998" x2="67" y2="998"/>
<line class="g" x1="777" y1="62" x2="817" y2="62"/>
<line class="g" x1="777" y1="114" x2="817" y2="114"/>
<line class="g" x1="777" y1="166" x2="817" y2="166"/>
<line class="g" x1="777" y1="218" x2="817" y2="218"/>
<line class="g" x1="777" y1="270" x2="817" y2="270"/>
<line class="g" x1="777" y1="374" x2="817" y2="374"/>
<line class="g" x1="777" y1="426" x2="817" y2="426"/>
<line class="g" x1="777" y1="478" x2="817" y2="478"/>
<line class="g" x1="777" y1="530" x2="817" y2="530"/>
<line class="g" x1="777" y1="582" x2="817" y2="582"/>
<line class="g" x1="777" y1="634" x2="817" y2="634"/>
<line class="g" x1="777" y1="686" x2="817" y2="686"/>
<line class="g" x1="777" y1="738" x2="817" y2="738"/>
<line class="g" x1="777" y1="842" x2="817" y2="842"/>
<line class="g" x1="777" y1="894" x2="817" y2="894"/>
<line class="g" x1="777" y1="946" x2="817" y2="946"/>
<line class="g" x1="777" y1="998" x2="817" y2="998"/>
<line class="g" x1="777" y1="1050" x2="817" y2="1050"/>
</g>
<g id="rownums-left">
<text class="nl" x="21" y="66.5">1</text>
<text class="nl" x="21" y="118.5">2</text>
<text class="nl" x="21" y="170.5">3</text>
<text class="nl" x="21" y="222.5">4</text>
<text class="nl" x="21" y="274.5">5</text>
<text class="nl" x="21" y="326.5">6</text>
<text class="nl" x="21" y="378.5">7</text>
<text class="nl" x="21" y="430.5">8</text>
<text class="nl" x="21" y="482.5">9</text>
<text class="nl" x="21" y="534.5">10</text>
<text class="nl" x="21" y="586.5">11</text>
<text class="nl" x="21" y="638.5">12</text>
<text class="nl" x="21" y="690.5">13</text>
<text class="nl" x="21" y="742.5">14</text>
<text class="nl" x="21" y="794.5">15</text>
<text class="nl" x="21" y="846.5">16</text>
<text class="nl" x="21" y="898.5">17</text>
<text class="nl" x="21" y="950.5">18</text>
<text class="nl" x="21" y="1002.5">19</text>
<text class="nl" x="21" y="1054.5">20</text>
</g>
<g id="rownums-right">
<text class="nr" x="822" y="66.5">1</text>
<text class="nr" x="822" y="118.5">2</text>
<text class="nr" x="822" y="170.5">3</text>
<text class="nr" x="822" y="222.5">4</text>
<text class="nr" x="822" y="274.5">5</text>
<text class="nr" x="822" y="326.5">6</text>
<text class="nr" x="822" y="378.5">7</text>
<text class="nr" x="822" y="430.5">8</text>
<text class="nr" x="822" y="482.5">9</text>
<text class="nr" x="822" y="534.5">10</text>
<text class="nr" x="822" y="586.5">11</text>
<text class="nr" x="822" y="638.5">12</text>
<text class="nr" x="822" y="690.5">13</text>
<text class="nr" x="822" y="742.5">14</text>
<text class="nr" x="822" y="794.5">15</text>
<text class="nr" x="822" y="846.5">16</text>
<text class="nr" x="822" y="898.5">17</text>
<text class="nr" x="822" y="950.5">18</text>
<text class="nr" x="822" y="1002.5">19</text>
<text class="nr" x="822" y="1054.5">20</text>
</g>
<g id="watermark">
<rect x="343" y="549" width="162" height="14" fill="#fff" fill-opacity="0.75"/>
<text x="345" y="561" font-family="'Liberation Sans',Arial,sans-serif" font-size="14" font-weight="bold" fill="#444">BRACELETBOOK.COM</text>
</g>
</g>
</svg>
